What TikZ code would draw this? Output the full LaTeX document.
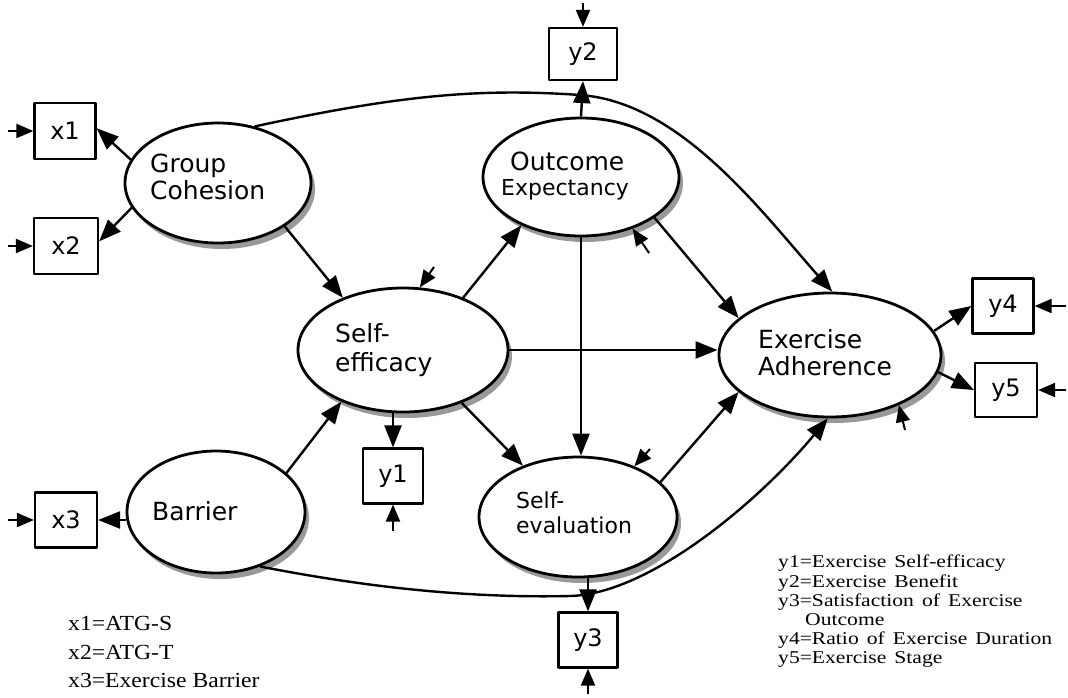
\documentclass[tikz,border=0pt]{standalone}
\usepackage{fontspec}
\usetikzlibrary{arrows.meta,shapes.geometric,shadows,calc}
\newfontfamily\dvs{DejaVu Sans}
\newfontfamily\legL[FakeStretch=1.1]{Liberation Serif}
\newfontfamily\legR[FakeStretch=1.2,WordSpace=1.5]{Liberation Serif}
\begin{document}
\begin{tikzpicture}[x=1pt,y=-1pt,line join=round,
  latent/.style={ellipse, draw, line width=2.8pt, fill=white, inner sep=0pt,
     drop shadow={shadow xshift=4pt, shadow yshift=-6pt, fill=black!40, opacity=1}},
  obs/.style={rectangle, draw, line width=2.2pt, fill=white, inner sep=0pt,
     font=\dvs\fontsize{24}{24}\selectfont},
  lbl/.style={inner sep=0pt, anchor=base west, font=\dvs\fontsize{25}{25}\selectfont},
  lblsmall/.style={lbl, font=\dvs\fontsize{22}{22}\selectfont},
  legl/.style={inner sep=0pt, anchor=base west, font=\legL\fontsize{21.5}{21.5}\selectfont},
  legr/.style={inner sep=0pt, anchor=base west, font=\legR\fontsize{18}{18}\selectfont},
  pth/.style={line width=2.4pt, -{Triangle[length=22pt,width=17pt]}},
  err/.style={line width=2pt, -{Triangle[length=17pt,width=14pt]}}]
\useasboundingbox (0,0) rectangle (1068,697);

% latent variables
\node[latent, minimum width=186pt, minimum height=120pt] (gc) at (218,183) {};
\node[latent, minimum width=196pt, minimum height=118pt] (oe) at (581,177) {};
\node[latent, minimum width=210pt, minimum height=124pt] (se) at (403,350) {};
\node[latent, minimum width=198pt, minimum height=120pt] (sev) at (578,517) {};
\node[latent, minimum width=222pt, minimum height=124pt] (adh) at (830,355) {};
\node[latent, minimum width=178pt, minimum height=122pt] (bar) at (216,512) {};

% labels
\node[lbl] (gcA) at (150,172) {Group};
\node[lbl] (gcB) at (150,199) {Cohesion};
\node[lbl] (oeA) at (510,170) {Outcome};
\node[lblsmall] (oeB) at (501,195) {Expectancy};
\node[lbl] (seA) at (335,342) {Self-};
\node[lbl] (seB) at (335,371) {efficacy};
\node[lbl] (adA) at (758,348) {Exercise};
\node[lbl] (adB) at (758,375) {Adherence};
\node[lblsmall] (svA) at (516,508) {Self-};
\node[lblsmall] (svB) at (516,533) {evaluation};
\node[lbl] (brA) at (152,520) {Barrier};

% observed variables
\node[obs, minimum width=61pt, minimum height=56pt] (x1) at (65,131) {x1};
\node[obs, minimum width=64pt, minimum height=56pt] (x2) at (66,246) {x2};
\node[obs, minimum width=62pt, minimum height=55pt] (x3) at (66,520) {x3};
\node[obs, minimum width=60pt, minimum height=55pt] (y1) at (393,476) {y1};
\node[obs, minimum width=68pt, minimum height=52pt] (y2) at (583,54) {y2};
\node[obs, minimum width=59pt, minimum height=55pt] (y3) at (588,640) {y3};
\node[obs, minimum width=61pt, minimum height=55pt] (y4) at (1003,306) {y4};
\node[obs, minimum width=62pt, minimum height=54pt] (y5) at (1006,390) {y5};

% free ends of error arrows
\coordinate (ex1) at (8,131);
\coordinate (ex2) at (8,246);
\coordinate (ex3) at (8,520);
\coordinate (ey1) at (393,531);
\coordinate (ey2) at (583,3);
\coordinate (ey3) at (588,694);
\coordinate (ey4) at (1066,306);
\coordinate (ey5) at (1066,390);
\coordinate (dse) at (434,267);
\coordinate (doe) at (649,253);
\coordinate (dsv) at (650,449);
\coordinate (dad) at (905,430);

% error arrows
\draw[err] (ex1) -- (x1.west);
\draw[err] (ex2) -- (x2.west);
\draw[err] (ex3) -- (x3.west);
\draw[err] (ey1) -- (y1.south);
\draw[err] (ey2) -- (y2.north);
\draw[err] (ey3) -- (y3.south);
\draw[err] (ey4) -- (y4.east);
\draw[err] (ey5) -- (y5.east);
\draw[err] (dse) -- (se.75);
\draw[err] (doe) -- (oe.-45.5);
\draw[err] (dsv) -- (sev.42.8);
\draw[err] (dad) -- (adh.-36.7);

% measurement paths
\draw[pth] (gc.165) -- (x1.5);
\draw[pth] (gc.196) -- (x2.8);
\draw[pth] (x3.east -| bar.west) -- (x3.east);
\draw[pth] (y1.north |- se.south) -- (y1.north);
\draw[pth] (oe.north) -- (y2.south);
\draw[pth] (y3.north |- sev.south) -- (y3.north);
\draw[pth] (adh.13.4) -- (y4.west);
\draw[pth] (adh.-9.6) -- (y5.west);

% structural paths
\draw[pth] (gc.-33) -- (se.139.5);
\draw[pth] (bar.29.4) -- (se.220.8);
\draw[pth] (se.41.4) -- (oe.219.4);
\draw[pth] (se.-42.5) -- (sev.137.7);
\draw[pth] (se.east) -- (se.east -| adh.west);
\draw[pth] (oe.south) -- (oe.south |- sev.north);
\draw[pth] (oe.-29.7) -- (adh.158);
\draw[pth] (sev.23.9) -- (adh.202);
\draw[pth] (gc.57) .. controls (400,95) and (480,88) .. (580,95)
   .. controls (680,102) and (760,210) .. (adh.88);
\draw[pth] (bar.-51) .. controls (380,590) and (480,598) .. (570,596)
   .. controls (650,594) and (760,500) .. (adh.268);

% legends
\node[legl] (lx1) at (68,630) {x1=ATG-S};
\node[legl] (lx2) at (68,659) {x2=ATG-T};
\node[legl] (lx3) at (68,687) {x3=Exercise Barrier};
\node[legr] (ly1) at (778,567) {y1=Exercise Self-efficacy};
\node[legr] (ly2) at (778,587) {y2=Exercise Benefit};
\node[legr] (ly3) at (778,606) {y3=Satisfaction of Exercise};
\node[legr] (ly3b) at (805,625) {Outcome};
\node[legr] (ly4) at (778,644) {y4=Ratio of Exercise Duration};
\node[legr] (ly5) at (778,663) {y5=Exercise Stage};
\end{tikzpicture}
\end{document}
